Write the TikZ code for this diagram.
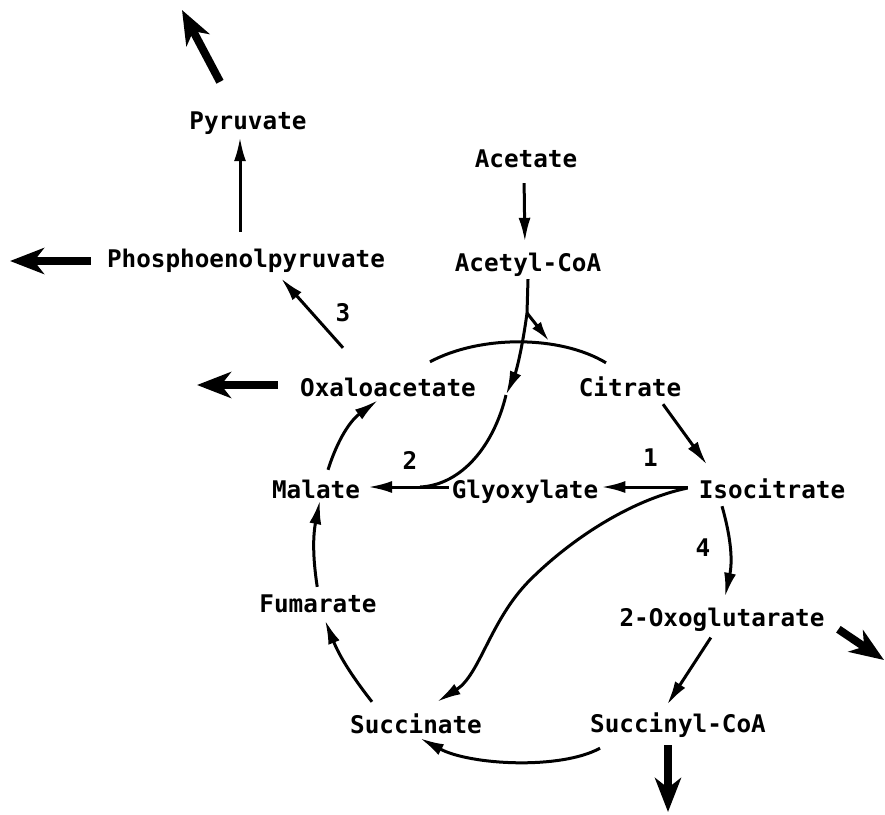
\documentclass[tikz,border=0pt]{standalone}
\usepackage{fontspec}
\setmainfont{DejaVu Sans Mono}
\usetikzlibrary{arrows.meta,positioning}

\begin{document}
\begin{tikzpicture}[
  x=1pt,y=-1pt,
  met/.style={font=\fontsize{24.3}{28}\selectfont\bfseries,inner sep=3pt,
              text height=17pt,text depth=5pt},
  num/.style={font=\fontsize{24.3}{28}\selectfont\bfseries,inner sep=0pt},
  flow/.style={-{Latex[length=24pt,width=12pt]},line width=3pt},
  link/.style={line width=3pt},
  big/.style={-{Stealth[length=34pt,width=26pt,inset=10pt]},line width=8pt}
]
\useasboundingbox (0,0) rectangle (885,814);

% metabolites
\node[met] (pyr)  at (248,123) {Pyruvate};
\node[met] (pep)  at (246,261) {Phosphoenolpyruvate};
\node[met] (act)  at (526,161) {Acetate};
\node[met] (acoa) at (528,265) {Acetyl-CoA};
\node[met] (oaa)  at (388,390) {Oxaloacetate};
\node[met] (cit)  at (630,390) {Citrate};
\node[met] (mal)  at (316,492) {Malate};
\node[met] (gly)  at (525,492) {Glyoxylate};
\node[met] (iso)  at (772,492) {Isocitrate};
\node[met] (og)   at (722,620) {2-Oxoglutarate};
\node[met] (scoa) at (678,726) {Succinyl-CoA};
\node[met] (suc)  at (416,727) {Succinate};
\node[met] (fum)  at (318,606) {Fumarate};

% free ends and junctions
\coordinate (pyrout)  at (182,10);
\coordinate (pepout)  at (10,261);
\coordinate (oaaout)  at (197,385);
\coordinate (ogout)   at (884,660);
\coordinate (scoaout) at (668,812);
\coordinate (jn)      at (527,313);
\coordinate (arcin)   at (549,341);
\coordinate (glyarr)  at (506,395);
\coordinate (gjoin)   at (420,487);

% drains
\draw[big] ([xshift=-28pt,yshift=27pt]pyr.north) -- (pyrout);
\draw[big,shorten <=13pt] (pep.west) -- (pepout);
\draw[big,shorten <=19pt] ([yshift=5pt]oaa.west) -- (oaaout);
\draw[big,shorten <=13pt] ([yshift=-2pt]og.east) -- (ogout);
\draw[big,shorten <=5pt] ([xshift=-10pt]scoa.south) -- (scoaout);

% gluconeogenesis
\draw[flow,shorten <=15pt] ([xshift=-6pt]pep.north) -- ([xshift=-8pt]pyr.south);
\draw[flow] ([xshift=-45pt,yshift=28pt]oaa.north) --
  node[num,midway,xshift=31pt] {3} ([xshift=35pt,yshift=-3pt]pep.south);

% acetate entry
\draw[flow,shorten <=8pt,shorten >=9pt] ([xshift=-2pt]act.south) -- ([xshift=-3pt]acoa.north);
\draw[link] (acoa.south) -- (jn);
\draw[-{Latex[length=20pt,width=11pt]},line width=3pt] (jn) -- (arcin);
\draw[link] ([xshift=42pt,yshift=14pt]oaa.north) .. controls (480,335) and (560,335)
  .. ([xshift=-24pt,yshift=13pt]cit.north);
\draw[flow] (jn) .. controls (522,350) and (516,372) .. (glyarr);
\draw[link] (glyarr) .. controls (494,445) and (462,485) .. (gjoin);

% cycle and shunt
\draw[flow] ([xshift=33pt]cit.south) -- ([xshift=-65pt,yshift=13pt]iso.north);
\draw[flow] ([xshift=-8pt,yshift=5pt]iso.west) --
  node[num,midway,xshift=6pt,yshift=29pt] {1} ([yshift=5pt]gly.east);
\draw[flow,shorten >=5pt] ([yshift=5pt]gly.west) --
  node[num,midway,xshift=4pt,yshift=27pt] {2} ([yshift=5pt]mal.east);
\draw[flow] ([xshift=-50pt]iso.south) to[bend left=14]
  node[num,midway,xshift=-27pt,yshift=4pt] {4} ([xshift=3pt,yshift=9pt]og.north);
\draw[flow,shorten <=4pt] ([xshift=-9pt]og.south) -- ([xshift=-11pt,yshift=7pt]scoa.north);
\draw[flow] ([xshift=13pt,yshift=-8pt]scoa.south west) .. controls (560,770) and (470,765)
  .. ([xshift=4pt,yshift=3pt]suc.south);
\draw[flow] ([xshift=25pt,yshift=11pt]suc.north west) to[bend left=8] ([xshift=7pt]fum.south);
\draw[flow,shorten <=5pt] (fum.north) to[bend left=10] ([xshift=4pt,yshift=6pt]mal.south);
\draw[flow] ([xshift=12pt,yshift=8pt]mal.north) to[bend left=18] ([xshift=-10pt,yshift=4pt]oaa.south);
\draw[flow] ([xshift=-8pt,yshift=4pt]iso.west) .. controls (630,500) and (570,540) .. (530,580)
  .. controls (490,620) and (480,675) .. ([xshift=21pt,yshift=11pt]suc.north);
\end{tikzpicture}
\end{document}
